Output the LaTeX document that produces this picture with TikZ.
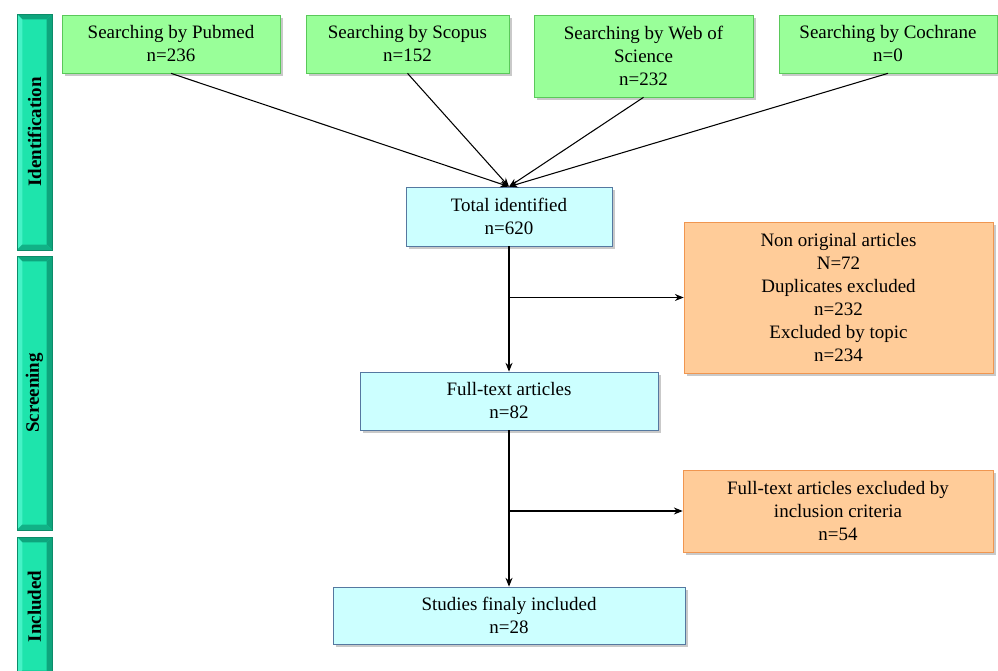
\documentclass[tikz,border=0pt]{standalone}
\usepackage{fontspec}
\setmainfont{Liberation Serif}
\usetikzlibrary{arrows.meta, positioning, shadows}

\definecolor{srcgreen}{RGB}{153,255,153}
\definecolor{srcedge}{RGB}{90,200,90}
\definecolor{mainblue}{RGB}{204,255,255}
\definecolor{mainedge}{RGB}{85,120,160}
\definecolor{exclorange}{RGB}{255,204,153}
\definecolor{excledge}{RGB}{240,150,80}
\definecolor{barteal}{RGB}{30,228,172}
\definecolor{baredge}{RGB}{12,140,105}
\definecolor{bardark}{RGB}{14,165,125}
\definecolor{barlight}{RGB}{70,242,198}

\begin{document}
\begin{tikzpicture}[x=0.02cm, y=-0.02cm, >={Stealth[length=5pt,width=4pt]},
  every node/.style={font=\fontsize{10.8}{13.1}\selectfont, align=center, inner sep=2pt},
  boxshadow/.style={drop shadow={shadow xshift=1.6pt, shadow yshift=-1.6pt, opacity=0.3, fill=black!70}},
  srcbox/.style={draw=srcedge, fill=srcgreen, boxshadow},
  mainbox/.style={draw=mainedge, fill=mainblue, boxshadow},
  exclbox/.style={draw=excledge, fill=exclorange, boxshadow},
  stagebar/.style={draw=baredge, fill=barteal, minimum width=0.7cm, inner sep=0pt,
    font=\fontsize{10.8}{13.1}\selectfont\bfseries,
    path picture={
      \fill[bardark] (path picture bounding box.north west) -- (path picture bounding box.north east)
        -- ([shift={(-3pt,-3pt)}]path picture bounding box.north east) -- ([shift={(3pt,-3pt)}]path picture bounding box.north west) -- cycle;
      \fill[bardark] (path picture bounding box.north east) -- (path picture bounding box.south east)
        -- ([shift={(-3pt,3pt)}]path picture bounding box.south east) -- ([shift={(-3pt,-3pt)}]path picture bounding box.north east) -- cycle;
      \fill[barlight] (path picture bounding box.north west) -- (path picture bounding box.south west)
        -- ([shift={(3pt,3pt)}]path picture bounding box.south west) -- ([shift={(3pt,-3pt)}]path picture bounding box.north west) -- cycle;
      \fill[bardark!80!barteal] (path picture bounding box.south west) -- (path picture bounding box.south east)
        -- ([shift={(-3pt,3pt)}]path picture bounding box.south east) -- ([shift={(3pt,3pt)}]path picture bounding box.south west) -- cycle;
    }},
  thinarrow/.style={->, line width=0.6pt},
  thickarrow/.style={->, line width=1.1pt}]

\useasboundingbox (0,0) rectangle (998,671);

% Stage bars
\node[stagebar, minimum height=4.72cm] (ident) at (34.5,132) {\rotatebox{90}{Identification}};
\node[stagebar, minimum height=5.48cm] (screen) at (34.5,393) {\rotatebox{90}{Screening}};
\node[stagebar, minimum height=2.78cm] (incl) at (34.5,606.5) {\rotatebox{90}{Included}};

% Searches (green)
\node[srcbox, minimum width=4.36cm, minimum height=1.16cm] (pubmed) at (171,44) {Searching by Pubmed\\n=236};
\node[srcbox, minimum width=4.06cm, minimum height=1.16cm] (scopus) at (407.5,44) {Searching by Scopus\\n=152};
\node[srcbox, minimum width=4.38cm, minimum height=1.64cm] (wos) at (643.5,56) {Searching by Web of\\Science\\n=232};
\node[srcbox, minimum width=4.36cm, minimum height=1.16cm] (cochrane) at (888,44) {Searching by Cochrane\\n=0};

% Main flow (blue)
\node[mainbox, minimum width=4.12cm, minimum height=1.18cm] (total) at (509,216.5) {Total identified\\n=620};
\node[mainbox, minimum width=5.96cm, minimum height=1.16cm] (fulltext) at (509,401) {Full-text articles\\n=82};
\node[mainbox, minimum width=7.04cm, minimum height=1.14cm] (studies) at (509,615.5) {Studies finaly included\\n=28};

% Exclusions (orange)
\node[exclbox, minimum width=6.18cm, minimum height=3.02cm] (excl1) at (838.5,297.5) {Non original articles\\N=72\\Duplicates excluded\\n=232\\Excluded by topic\\n=234};
\node[exclbox, minimum width=6.2cm, minimum height=1.64cm] (excl2) at (838,511) {Full-text articles excluded by\\inclusion criteria\\n=54};

% Connections (searches to total)
\draw[thinarrow] (pubmed.south) -- (total.north);
\draw[thinarrow] (scopus.south) -- (total.north);
\draw[thinarrow] (wos.south) -- (total.north);
\draw[thinarrow] (cochrane.south) -- (total.north);

% Connections (main flow)
\draw[thickarrow] (total) -- (fulltext);
\draw[thickarrow] (fulltext) -- (studies);

% Connections (exclusions)
\coordinate (b1) at (total.south |- excl1.west);
\coordinate (b2) at (fulltext.south |- excl2.west);
\draw[thinarrow] (b1) -- (excl1);
\draw[thinarrow] (b2) -- (excl2);

\end{tikzpicture}
\end{document}
